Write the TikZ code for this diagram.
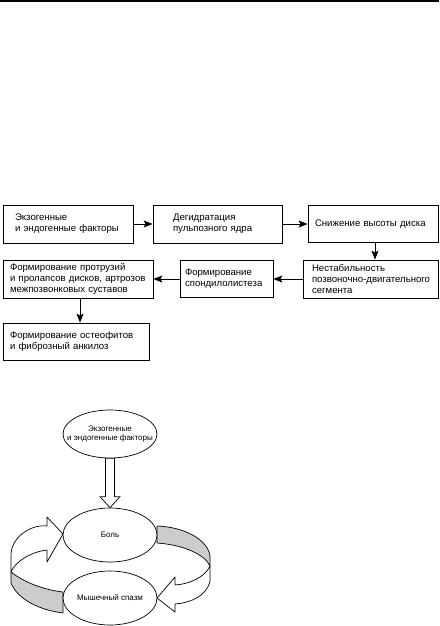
\documentclass[tikz,border=0pt]{standalone}
\usepackage{fontspec}
\setmainfont{Liberation Sans}
\usetikzlibrary{arrows.meta,shapes.geometric}
\begin{document}
\begin{tikzpicture}[x=1pt,y=-1pt,
  box/.style={draw, line width=0.8pt, rectangle, inner ysep=0pt, align=left,
    font=\fontsize{9.6}{11}\selectfont},
  arr/.style={-{Stealth[length=9pt,width=7pt,inset=2pt]}, line width=0.8pt},
  oval/.style={draw, ellipse, line width=0.7pt, inner sep=0pt, fill=white},
  ovaltext/.style={font=\fontsize{8}{9}\selectfont, align=center},
  ribbon/.style={draw, line width=0.7pt, line join=round},
]
\useasboundingbox (0,0) rectangle (439,626);
\draw[line width=1.5pt] (0,1) -- (439,1);

% flow chart
\node[box, text width=106pt, inner xsep=12pt, minimum height=38pt] (b1) at (68,224)
  {\mbox{Экзогенные}\\\mbox{и эндогенные факторы}};
\node[box, text width=89pt, inner xsep=20pt, minimum height=38pt] (b2) at (217.5,224)
  {\mbox{Дегидратация}\\\mbox{пульпозного ядра}};
\node[box, text width=116pt, inner xsep=7pt, minimum height=37pt] (b3) at (373,224)
  {\mbox{Снижение высоты диска}};
\node[box, text width=117pt, inner xsep=9pt, minimum height=38pt] (b4) at (370.5,279)
  {\mbox{Нестабильность}\\\mbox{позвоночно-двигательного}\\\mbox{сегмента}};
\node[box, text width=83pt, inner xsep=5pt, minimum height=37pt] (b5) at (226.5,279)
  {\mbox{Формирование}\\\mbox{спондилолистеза}};
\node[box, text width=136pt, inner xsep=7pt, minimum height=38pt] (b6) at (78,279)
  {\mbox{Формирование протрузий}\\\mbox{и пролапсов дисков, артрозов}\\\mbox{межпозвонковых суставов}};
\node[box, text width=132pt, inner xsep=7pt, minimum height=37pt] (b7) at (76,341.5)
  {\mbox{Формирование остеофитов}\\\mbox{и фиброзный анкилоз}};

\draw[arr] (b1) -- (b2);
\draw[arr] (b2) -- (b3);
\draw[arr] (b3.south -| 375,0) -- (b4.north -| 375,0);
\draw[arr] (b4) -- (b5);
\draw[arr] (b5) -- (b6);
\draw[arr] (b6.south -| 80,0) -- (b7.north -| 80,0);

% cycle diagram
% left ribbon arrow
\draw[ribbon, fill=gray!40] (11,572) .. controls (25,583) and (45,590) .. (63,592)
  -- (63,613) .. controls (40,610) and (18,600) .. (11,583) -- cycle;
\draw[ribbon, fill=white] (63,534) -- (47,517) -- (47,526)
  .. controls (30,524) and (11,538) .. (11,555) -- (11,572)
  .. controls (15,562) and (30,552) .. (47,550) -- (47,562) -- cycle;
% right ribbon arrow
\draw[ribbon, fill=gray!40] (157,526) .. controls (185,527) and (208,540) .. (210,556)
  -- (210,566) .. controls (205,555) and (185,545) .. (157,543) -- cycle;
\draw[ribbon, fill=white] (210,566) -- (210,581)
  .. controls (207,596) and (190,603) .. (175,604) -- (175,612) -- (157,598)
  -- (175,577) -- (175,585) .. controls (190,584) and (205,577) .. (210,566) -- cycle;

\node[oval, minimum width=94pt, minimum height=48pt,
  label={[ovaltext]center:{Экзогенные\\и эндогенные факторы}}] (e1) at (110,434) {};
\node[oval, minimum width=94pt, minimum height=54pt,
  label={[ovaltext]center:{Боль}}] (e2) at (110,535) {};
\node[oval, minimum width=94pt, minimum height=54pt,
  label={[ovaltext]center:{Мышечный спазм}}] (e3) at (110,598) {};

% hollow arrow
\draw[line width=0.7pt, fill=white, line join=miter]
  ([xshift=-4.5pt]e1.south) -- ([xshift=4.5pt]e1.south)
  -- ([xshift=4.5pt,yshift=11pt]e2.north) -- ([xshift=10pt,yshift=11pt]e2.north)
  -- (e2.north) -- ([xshift=-10pt,yshift=11pt]e2.north)
  -- ([xshift=-4.5pt,yshift=11pt]e2.north) -- cycle;
\end{tikzpicture}
\end{document}
